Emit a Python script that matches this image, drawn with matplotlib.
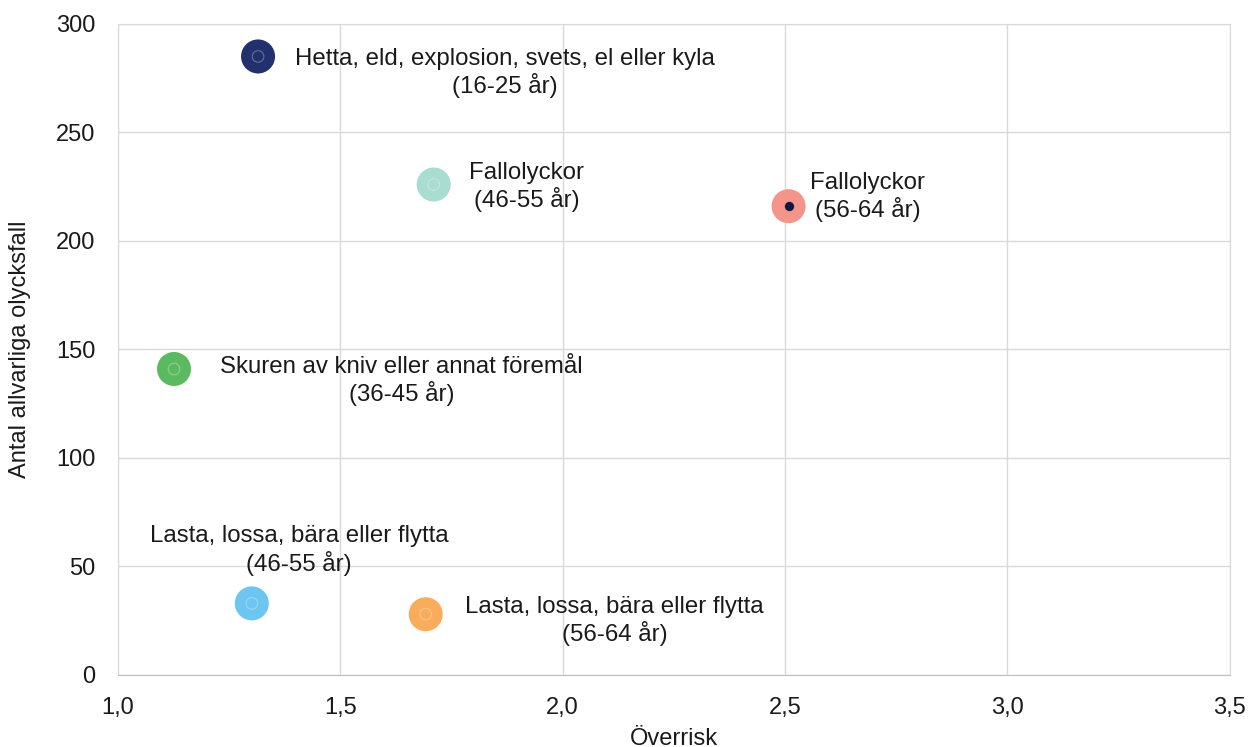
import matplotlib
matplotlib.use("Agg")
import matplotlib.pyplot as plt

plt.rcParams['font.family'] = ['Liberation Sans', 'DejaVu Sans']

# data
overrisk = [1.315, 1.71, 2.508, 1.126, 1.301, 1.692]
antal = [285, 226, 216, 141, 33, 28]
labels = [
    "Hetta, eld, explosion, svets, el eller kyla\n(16-25 år)",
    "Fallolyckor\n(46-55 år)",
    "Fallolyckor\n(56-64 år)",
    "Skuren av kniv eller annat föremål\n(36-45 år)",
    "Lasta, lossa, bära eller flytta\n(46-55 år)",
    "Lasta, lossa, bära eller flytta\n(56-64 år)",
]
colors = ["#22306e", "#a9ddd2", "#f4958b", "#5bba5f", "#6cc6f1", "#f9ad5b"]
# label offsets (points) from each bubble
offsets = [(178, -12), (67, -2), (57, 6.5), (164, -8.6), (34, 38), (136, -5)]

fig = plt.figure(figsize=(12.51, 7.47), dpi=100)
ax = fig.add_axes([0.0943, 0.0964, 0.8887, 0.8716])

ax.scatter(overrisk, antal, s=600, c=colors, zorder=3, linewidths=0)
# faint inner rings, dark dot on the salmon one
for i in range(len(overrisk)):
    if i == 2:
        ax.scatter(overrisk[i], antal[i], s=45, c="#0d1a40", zorder=4, linewidths=0)
    else:
        ax.scatter(overrisk[i], antal[i], s=70, facecolors="none",
                   edgecolors=(1, 1, 1, 0.3), linewidths=0.8, zorder=4)

for x, y, lab, off in zip(overrisk, antal, labels, offsets):
    ax.annotate(lab, (x, y), xytext=off, textcoords="offset points",
                ha="center", va="center", fontsize=17.3, color="#1a1a1a",
                linespacing=1.17)

ax.set_xlim(1.0, 3.5)
ax.set_ylim(0, 300)
xt = [1.0, 1.5, 2.0, 2.5, 3.0, 3.5]
ax.set_xticks(xt)
ax.set_xticklabels(["{:.1f}".format(v).replace(".", ",") for v in xt])
ax.set_yticks(range(0, 301, 50))
ax.tick_params(axis="both", length=0, labelsize=17, colors="#1a1a1a")
ax.tick_params(axis="y", pad=16)
ax.tick_params(axis="x", pad=16)
ax.grid(True, color="#d9d9d9", linewidth=1)
ax.set_axisbelow(True)
for sp in ax.spines.values():
    sp.set_color("#d9d9d9")
ax.spines["bottom"].set_color("#bfbfbf")
ax.set_xlabel("Överrisk", fontsize=17, color="#1a1a1a", labelpad=6)
ax.set_ylabel("Antal allvarliga olycksfall", fontsize=17, color="#1a1a1a", labelpad=18)

fig.savefig("out.png", dpi=100)
